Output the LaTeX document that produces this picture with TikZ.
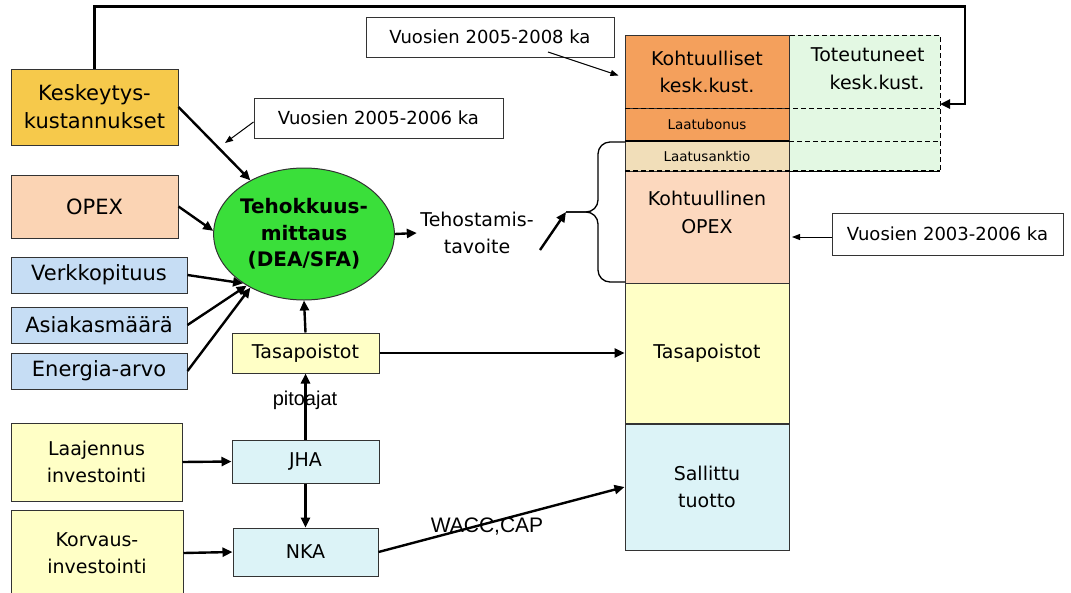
\documentclass[tikz,border=0pt]{standalone}
\usepackage{fontspec}
\setmainfont{DejaVu Sans}
\newfontfamily\arialf{Liberation Sans}
\usetikzlibrary{arrows.meta,shapes.geometric,calc}
\definecolor{keskY}{HTML}{F6C94B}
\definecolor{opexP}{HTML}{FBD4B4}
\definecolor{blueV}{HTML}{C6DDF4}
\definecolor{greenE}{HTML}{3ADF3A}
\definecolor{orangeK}{HTML}{F4A05C}
\definecolor{tanS}{HTML}{F1DEB9}
\definecolor{peachO}{HTML}{FCD8BE}
\definecolor{totG}{HTML}{E3F8E3}
\definecolor{yellowL}{HTML}{FFFFC6}
\definecolor{cyanL}{HTML}{DCF3F7}
\definecolor{edge}{HTML}{333333}
\tikzset{
  box/.style={draw=edge, line width=1pt, inner sep=0pt, align=center,
    font=\fontsize{19}{27}\selectfont},
  bigtxt/.style={font=\fontsize{21}{28}\selectfont},
  note/.style={draw=edge, fill=white, line width=1pt, inner sep=0pt,
    font=\fontsize{18}{22}\selectfont},
  flow/.style={line width=2.4pt, -{Triangle[length=10pt,width=9pt]}},
  pointer/.style={line width=1pt, -{Triangle[length=8pt,width=6pt]}},
  dashline/.style={dashed, line width=1pt, dash pattern=on 5pt off 3pt},
}
\begin{document}
\begin{tikzpicture}[x=1pt,y=-1pt]
\useasboundingbox (0,0) rectangle (1071,592);

% inputs on the left
\node[box,bigtxt,fill=keskY,minimum width=167,minimum height=76] (kesk) at (94.5,107) {Keskeytys-\\kustannukset};
\node[box,bigtxt,fill=opexP,minimum width=167,minimum height=63] (opex) at (94.5,206.5) {OPEX};
\node[box,bigtxt,fill=blueV,minimum width=176,minimum height=36] (verk) at (99,275) {Verkkopituus};
\node[box,bigtxt,fill=blueV,minimum width=176,minimum height=36] (asia) at (99,325) {Asiakasmäärä};
\node[box,bigtxt,fill=blueV,minimum width=176,minimum height=36] (ener) at (99,371) {Energia-arvo};
\node[box,fill=yellowL,minimum width=171,minimum height=78] (laaj) at (96.5,462) {Laajennus\\investointi};
\node[box,fill=yellowL,minimum width=172,minimum height=86] (korv) at (97,553) {Korvaus-\\investointi};

% efficiency measurement
\node[ellipse,draw=edge,line width=1pt,fill=greenE,minimum width=152,minimum height=132,inner sep=0pt,
  align=center,font=\fontsize{20}{26.5}\selectfont\bfseries] (ell) at (304,234) {Tehokkuus-\\mittaus\\(DEA/SFA)};

% asset chain
\node[box,fill=yellowL,minimum width=147,minimum height=40] (tasS) at (305.5,353) {Tasapoistot};
\node[box,fill=cyanL,minimum width=147,minimum height=43] (jha) at (305.5,461.5) {JHA};
\node[box,fill=cyanL,minimum width=145,minimum height=48] (nka) at (305.5,552) {NKA};

% realised interruption costs (dashed)
\draw[dashline,fill=totG] (789,35) rectangle (940,171);
\node[align=right,font=\fontsize{19}{28}\selectfont,anchor=east] (toteut) at (928,69) {Toteutuneet\\kesk.kust.};

% allowed revenue stack
\node[box,fill=orangeK,minimum width=164,minimum height=73] (kohtk) at (707,71.5) {Kohtuulliset\\kesk.kust.};
\node[box,fill=orangeK,minimum width=164,minimum height=33,font=\fontsize{13.5}{16}\selectfont] (lbon) at (707,124.5) {Laatubonus};
\node[box,fill=tanS,minimum width=164,minimum height=30,font=\fontsize{13.5}{16}\selectfont] (lsan) at (707,156) {Laatusanktio};
\node[box,fill=peachO,minimum width=164,minimum height=112] (kopex) at (707,227) {};
\node[align=center,font=\fontsize{19}{28}\selectfont] (kopexlab) at (707,212) {Kohtuullinen\\OPEX};
\node[box,fill=yellowL,minimum width=164,minimum height=140] (tasap) at (707,353) {Tasapoistot};
\node[box,fill=cyanL,minimum width=164,minimum height=126] (sall) at (707,487) {Sallittu\\tuotto};

% dividers between the layers
\draw[dashline] (625,108) -- (940,108);
\draw[dashline] (789,141) -- (940,141);
\draw[line width=1.3pt] (625,141) -- (789,141);
\draw[dashline,line width=2pt] (625,171) -- (940,171);

% year notes
\node[note,minimum width=248,minimum height=40] (note1) at (490,37) {Vuosien 2005-2008 ka};
\node[note,minimum width=249,minimum height=40] (note2) at (378.5,118) {Vuosien 2005-2006 ka};
\node[note,minimum width=231,minimum height=42] (note3) at (947.5,234) {Vuosien 2003-2006 ka};

% efficiency target and brace
\node[align=center,font=\fontsize{19}{27}\selectfont] (tehost) at (477,233) {Tehostamis-\\tavoite};
\coordinate (bracetip) at (566,212);
\coordinate (tailT) at (540,250);
\draw[line width=1.3pt,rounded corners=12pt] (625,142) -- (598,142) -- (598,212) -- (bracetip);
\draw[line width=1.3pt,rounded corners=12pt] (625,282) -- (598,282) -- (598,212) -- (bracetip);

% connectors
\draw[flow] (kesk.east) -- (ell.135);
\draw[flow] (opex.east) -- (ell.178);
\draw[flow] (verk.east) -- (ell.219);
\draw[flow] (asia.east) -- (ell.222);
\draw[flow] (ener.east) -- (ell.225);
\draw[flow] (ell.east) -- (tehost.west);
\draw[flow] (tailT) -- (bracetip);
\draw[flow] (tasS.north) -- (ell.south);
\draw[flow] (tasS.east) -- (tasap.west);
\draw[flow] (jha.north) -- (tasS.south);
\node[font=\arialf\fontsize{20}{24}\selectfont] (pito) at (305,400) {pitoajat};
\draw[flow] (jha.south) -- (nka.north);
\draw[flow] (laaj.east) -- (jha.west);
\draw[flow] (korv.east) -- (nka.west);
\draw[flow] (nka.east) -- (sall.west);
\node[font=\arialf\fontsize{21}{24}\selectfont] (wacc) at (487,527) {WACC,CAP};

% feedback of realised interruption costs
\coordinate (totIn) at (940,104);
\draw[flow] (kesk.north) -- ++(0,-62) -| (965,104) -- (totIn);

% note pointers
\coordinate (n1from) at (548,52);
\coordinate (n2to) at (225,143);
\coordinate (n3to) at (792,237);
\draw[pointer] (n1from) -- ([xshift=-6pt,yshift=-4pt]kohtk.west);
\draw[pointer] ([yshift=-4pt]note2.west) -- (n2to);
\draw[pointer] ([yshift=-3pt]note3.west) -- (n3to);
\end{tikzpicture}
\end{document}
